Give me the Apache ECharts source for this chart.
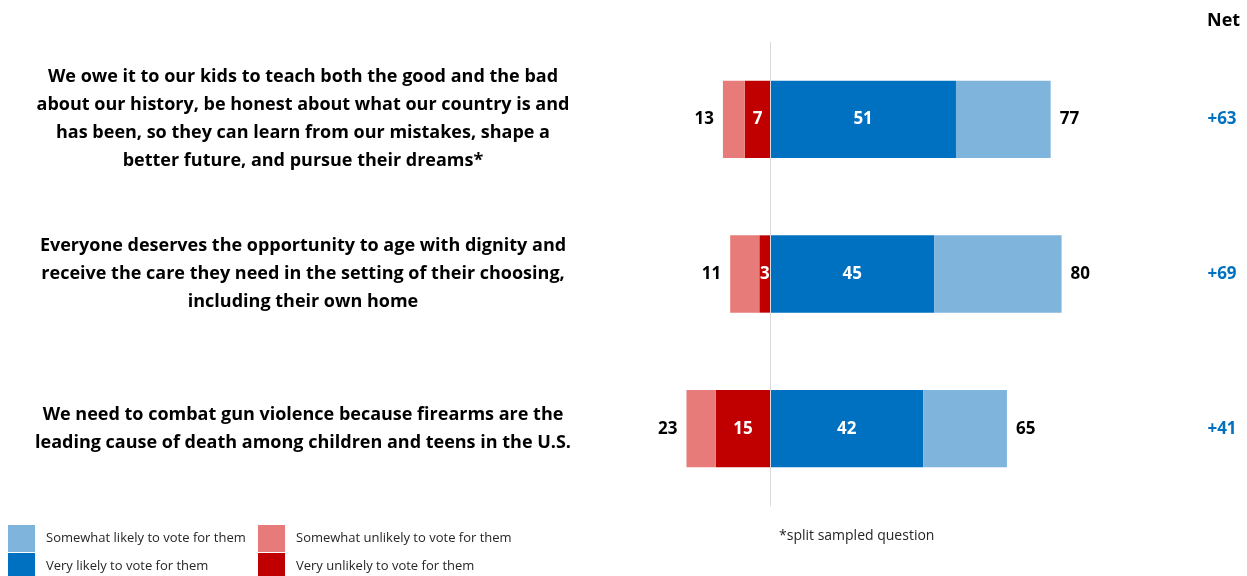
<!DOCTYPE html>
<html>
<head>
<meta charset="utf-8">
<script src="https://cdn.jsdelivr.net/npm/echarts@6/dist/echarts.min.js"></script>
<style>
  html, body { margin: 0; padding: 0; background: #fff; }
  #chart { width: 1247px; height: 576px; }
</style>
</head>
<body>
<div id="chart"></div>
<script>
// Messages tested, top to bottom
const statements = [
  'We owe it to our kids to teach both the good and the bad\nabout our history, be honest about what our country is and\nhas been, so they can learn from our mistakes, shape a\nbetter future, and pursue their dreams*',
  'Everyone deserves the opportunity to age with dignity and\nreceive the care they need in the setting of their choosing,\nincluding their own home',
  'We need to combat gun violence because firearms are the\nleading cause of death among children and teens in the U.S.'
];

// Shares (%) per response
const veryLikely = [51, 45, 42];
const somewhatLikely = [26, 35, 23];
const veryUnlikely = [7, 3, 15];
const somewhatUnlikely = [6, 8, 8];

// Totals printed at the bar ends
const likelyTotal = [77, 80, 65];
const unlikelyTotal = [13, 11, 23];

// Net column
const netLabels = ['+63', '+69', '+41'];

const seriesNames = [
  'Somewhat likely to vote for them',
  'Very likely to vote for them',
  'Somewhat unlikely to vote for them',
  'Very unlikely to vote for them'
];

const COLORS = {
  somewhatLikely: '#7fb5dd',
  veryLikely: '#0070c0',
  somewhatUnlikely: '#e67b79',
  veryUnlikely: '#c00000'
};

const FONT = '"Open Sans", "Noto Sans", sans-serif';

// categories are listed bottom-up for the vertical axis
const rev = a => a.slice().reverse();

const chart = echarts.init(document.getElementById('chart'), null, { renderer: 'canvas' });

const insideLabel = {
  show: true,
  position: 'inside',
  color: '#fff',
  fontFamily: FONT,
  fontWeight: 'bold',
  fontSize: 17
};

const endLabel = {
  show: true,
  distance: 9,
  color: '#000',
  fontFamily: FONT,
  fontWeight: 'bold',
  fontSize: 17
};

const legendBase = {
  orient: 'vertical',
  top: 525,
  height: 60,
  padding: 0,
  itemWidth: 27,
  itemHeight: 27,
  itemGap: 1,
  icon: 'rect',
  textStyle: { fontFamily: FONT, fontSize: 13, color: '#262626', padding: [2, 0, 0, 6] },
  selectedMode: false
};

const barWidth = '50%';

chart.setOption({
  animation: false,
  title: {
    text: 'Net',
    left: 1202,
    top: 7,
    textStyle: { fontFamily: FONT, fontWeight: 'bold', fontSize: 18, color: '#000' }
  },
  graphic: [{
    type: 'text',
    left: 779,
    top: 529,
    style: {
      text: '*split sampled question',
      fontFamily: FONT,
      fontSize: 14,
      fill: '#262626'
    }
  }],
  legend: [
    Object.assign({}, legendBase, { left: 8, data: [seriesNames[0], seriesNames[1]] }),
    Object.assign({}, legendBase, { left: 258, data: [seriesNames[2], seriesNames[3]] })
  ],
  grid: {
    left: 661,
    right: 149,
    top: 42,
    bottom: 70,
    containLabel: false
  },
  xAxis: {
    type: 'value',
    min: -30,
    max: 90,
    show: false
  },
  yAxis: [{
    type: 'category',
    data: rev(statements),
    axisLine: { show: false },
    axisTick: { show: false },
    axisLabel: {
      margin: 358,
      align: 'center',
      fontFamily: FONT,
      fontWeight: 'bold',
      fontSize: 18,
      lineHeight: 28,
      color: '#000'
    }
  }, {
    type: 'category',
    position: 'right',
    data: rev(netLabels),
    axisLine: { show: false },
    axisTick: { show: false },
    axisLabel: {
      margin: 124,
      align: 'center',
      fontFamily: FONT,
      fontWeight: 'bold',
      fontSize: 17,
      color: '#0070c0'
    }
  }],
  series: [{
    name: seriesNames[1],
    type: 'bar',
    stack: 'total',
    barWidth: barWidth,
    data: rev(veryLikely),
    itemStyle: { color: COLORS.veryLikely },
    label: insideLabel,
    markLine: {
      silent: true,
      symbol: 'none',
      label: { show: false },
      lineStyle: { color: '#d9d9d9', width: 1, type: 'solid' },
      data: [{ xAxis: 0 }]
    },
    z: 2
  }, {
    name: seriesNames[0],
    type: 'bar',
    stack: 'total',
    barWidth: barWidth,
    data: rev(somewhatLikely),
    itemStyle: { color: COLORS.somewhatLikely },
    label: Object.assign({}, endLabel, {
      position: 'right',
      formatter: p => String(rev(likelyTotal)[p.dataIndex])
    })
  }, {
    name: seriesNames[3],
    type: 'bar',
    stack: 'total',
    barWidth: barWidth,
    data: rev(veryUnlikely).map(v => -v),
    itemStyle: { color: COLORS.veryUnlikely },
    label: Object.assign({}, insideLabel, { formatter: p => String(-p.value) })
  }, {
    name: seriesNames[2],
    type: 'bar',
    stack: 'total',
    barWidth: barWidth,
    data: rev(somewhatUnlikely).map(v => -v),
    itemStyle: { color: COLORS.somewhatUnlikely },
    label: Object.assign({}, endLabel, {
      position: 'left',
      formatter: p => String(rev(unlikelyTotal)[p.dataIndex])
    })
  }]
});
</script>
</body>
</html>
